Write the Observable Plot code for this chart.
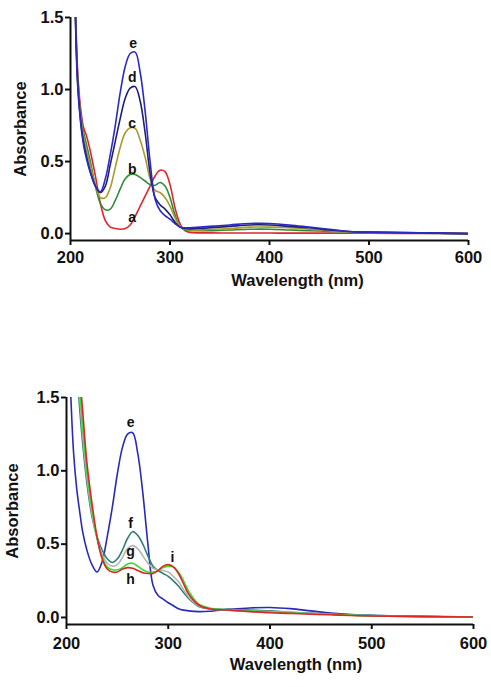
<!DOCTYPE html>
<html><head><meta charset="utf-8">
<script src="https://cdn.jsdelivr.net/npm/d3@7"></script>
<script src="https://cdn.jsdelivr.net/npm/@observablehq/plot@0.6"></script>
<style>
body{margin:0;background:#fff;}
#chart svg{display:block;background:#fff;}
</style>
</head><body><div id="chart"></div>
<script>
// Shared wavelength grid (nm)
const wavelengths = [201,204,207,210,213,216,220,225,230,235,240,245,250,255,260,265,270,275,280,285,290,295,300,305,310,315,320,330,340,360,380,400,420,440,460,480,500,550,600];

// Top panel series (absorbance)
const topA = [2.6,1.85,1.15,0.88,0.74,0.68,0.57,0.40,0.21,0.09,0.045,0.035,0.03,0.035,0.06,0.12,0.19,0.26,0.33,0.40,0.44,0.43,0.34,0.18,0.07,0.02,0.008,0.005,0.005,0.004,0.004,0.004,0.003,0.003,0.003,0.002,0.002,0.001,0.0];
const topB = [2.6,1.82,1.12,0.84,0.71,0.62,0.50,0.33,0.21,0.165,0.17,0.23,0.31,0.38,0.41,0.41,0.39,0.365,0.34,0.335,0.355,0.33,0.25,0.13,0.05,0.025,0.02,0.02,0.02,0.025,0.03,0.03,0.025,0.02,0.015,0.01,0.006,0.003,0.0];
const topC = [2.6,1.8,1.1,0.82,0.68,0.58,0.47,0.34,0.25,0.25,0.32,0.46,0.60,0.70,0.735,0.73,0.65,0.53,0.38,0.30,0.285,0.25,0.19,0.11,0.05,0.03,0.025,0.025,0.03,0.035,0.045,0.045,0.04,0.03,0.02,0.01,0.008,0.004,0.0];
const topD = [2.6,1.78,1.08,0.80,0.64,0.54,0.43,0.33,0.285,0.33,0.48,0.64,0.80,0.94,1.01,1.02,0.92,0.70,0.42,0.25,0.20,0.17,0.13,0.08,0.045,0.035,0.033,0.035,0.04,0.05,0.06,0.06,0.05,0.04,0.025,0.015,0.01,0.005,0.0];
const topE = [2.6,1.75,1.05,0.78,0.62,0.52,0.42,0.33,0.29,0.38,0.55,0.75,0.98,1.16,1.25,1.26,1.12,0.85,0.50,0.24,0.16,0.125,0.10,0.07,0.045,0.04,0.04,0.045,0.05,0.06,0.07,0.07,0.06,0.045,0.03,0.015,0.01,0.005,0.0];

// Bottom panel series
const botE = [2.2,1.55,1.12,0.88,0.72,0.58,0.46,0.36,0.31,0.38,0.55,0.75,0.98,1.16,1.25,1.26,1.12,0.85,0.50,0.22,0.15,0.125,0.10,0.08,0.06,0.05,0.045,0.04,0.042,0.055,0.065,0.068,0.06,0.045,0.03,0.02,0.014,0.008,0.003];
const botF = [3.2,2.5,2.0,1.72,1.42,1.18,0.92,0.69,0.55,0.46,0.40,0.375,0.40,0.46,0.54,0.585,0.56,0.50,0.42,0.35,0.32,0.30,0.28,0.25,0.215,0.17,0.13,0.075,0.06,0.055,0.05,0.045,0.035,0.03,0.022,0.017,0.013,0.007,0.003];
const botG = [3.3,2.6,2.1,1.8,1.5,1.24,0.96,0.71,0.54,0.43,0.37,0.35,0.36,0.41,0.47,0.49,0.47,0.42,0.37,0.335,0.325,0.32,0.31,0.28,0.245,0.19,0.14,0.08,0.06,0.05,0.045,0.04,0.035,0.028,0.022,0.016,0.012,0.006,0.003];
const botH = [3.4,2.7,2.2,1.88,1.56,1.3,1.0,0.74,0.54,0.41,0.345,0.325,0.325,0.34,0.365,0.37,0.35,0.325,0.31,0.31,0.32,0.34,0.35,0.345,0.31,0.25,0.18,0.09,0.065,0.05,0.045,0.037,0.03,0.025,0.02,0.015,0.011,0.006,0.003];
const botI = [3.5,2.8,2.3,1.95,1.65,1.4,1.06,0.78,0.55,0.40,0.33,0.31,0.31,0.33,0.34,0.335,0.32,0.305,0.30,0.30,0.32,0.35,0.36,0.345,0.30,0.23,0.16,0.085,0.06,0.05,0.04,0.032,0.028,0.022,0.018,0.013,0.01,0.006,0.003];

// Series names & colours
const topNames = ["a","b","c","d","e"];
const topColors = ["#e0262b","#2e8b3c","#a89b2e","#1e1e78","#2a2ac4"];
const botNames = ["e","f","g","h","i"];
const botColors = ["#2a2ab8","#2e7f72","#b4b4b4","#2ee02e","#e02424"];

// Curve label positions (wavelength, absorbance)
const topLabels = [
  {t:"e", w:263, v:1.32},
  {t:"d", w:262, v:1.083},
  {t:"c", w:262, v:0.764},
  {t:"b", w:262, v:0.444},
  {t:"a", w:262, v:0.111}
];
const botLabels = [
  {t:"e", w:263, v:1.33},
  {t:"f", w:263, v:0.64},
  {t:"g", w:263, v:0.45},
  {t:"h", w:263, v:0.26},
  {t:"i", w:304, v:0.41}
];

const xTicks = [200,300,400,500,600];
const yTicks = [0,0.5,1.0,1.5];
const yFloor = -0.048;

function tidy(names, arrays){
  const rows = [];
  names.forEach((n, k) => arrays[k].forEach((v, i) => rows.push({s:n, w:wavelengths[i], v})));
  return rows;
}

function panel({names, colors, arrays, labels, height, mt, mb, ml, mr, xTickPad, yLabelOffset, xTitleDx, xTitleDy}) {
  const rows = tidy(names, arrays);
  return Plot.plot({
    width: 491, height,
    marginTop: mt, marginBottom: mb, marginLeft: ml, marginRight: mr,
    style: {fontFamily: "'Liberation Sans', Arial, sans-serif", fontSize: "16.5px", fontWeight: "bold", color: "#111", background: "#fff"},
    x: {domain: [200, 600]},
    y: {domain: [yFloor, 1.5]},
    color: {domain: names, range: colors},
    marks: [
      Plot.line(rows, {x: "w", y: "v", z: "s", stroke: "s", curve: "catmull-rom", strokeWidth: 1.6, clip: true}),
      Plot.text(labels, {x: "w", y: "v", text: "t", fontSize: 14, fontWeight: "bold", fill: "#111"}),
      Plot.ruleX([200], {stroke: "#111", strokeWidth: 2}),
      Plot.ruleY([yFloor], {stroke: "#111", strokeWidth: 2}),
      Plot.axisY({ticks: yTicks, tickFormat: d3.format(".1f"), tickSize: 5, tickPadding: 2, strokeWidth: 2, label: "Absorbance", labelAnchor: "center", labelOffset: yLabelOffset, labelArrow: "none"}),
      Plot.axisX({ticks: xTicks, tickFormat: d => String(d), tickSize: 5, tickPadding: xTickPad, strokeWidth: 2, label: null}),
      Plot.text(["Wavelength (nm)"], {text: d => d, frameAnchor: "bottom", dx: xTitleDx, dy: xTitleDy, fontSize: 16.5, fontWeight: "bold", fill: "#111"})
    ]
  });
}

const root = document.getElementById("chart");
root.append(panel({
  names: topNames, colors: topColors, arrays: [topA, topB, topC, topD, topE], labels: topLabels,
  height: 300, mt: 17, mb: 60, ml: 70, mr: 23, xTickPad: 6, yLabelOffset: 56, xTitleDx: 28, xTitleDy: 45
}));
root.append(panel({
  names: botNames, colors: botColors, arrays: [botE, botF, botG, botH, botI], labels: botLabels,
  height: 387, mt: 97, mb: 63, ml: 66, mr: 18, xTickPad: 8, yLabelOffset: 60, xTitleDx: 26, xTitleDy: 45
}));
</script>
</body></html>
